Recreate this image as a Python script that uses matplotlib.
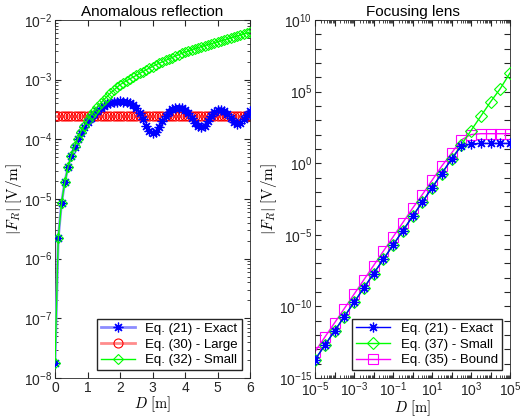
import numpy as np
import matplotlib
matplotlib.use("Agg")
import matplotlib.pyplot as plt
from matplotlib.ticker import LogLocator, FixedLocator, NullFormatter, LogFormatterSciNotation

plt.rcParams['font.family'] = ['Liberation Sans', 'DejaVu Sans']
plt.rcParams['mathtext.fontset'] = 'cm'

# ---- Anomalous reflection data ----
d_refl = [round(0.1 * i, 1) for i in range(61)]
fr_exact_refl = [1.8e-8, 2.2e-6, 8.5e-6, 1.9e-5, 3.4e-5, 5.3e-5, 7.5e-5, 1.0e-4, 1.3e-4, 1.6e-4,
                 1.95e-4, 2.3e-4, 2.65e-4, 3.0e-4, 3.3e-4, 3.6e-4, 3.85e-4, 4.05e-4, 4.2e-4, 4.3e-4,
                 4.35e-4, 4.3e-4, 4.2e-4, 4.0e-4, 3.7e-4, 3.3e-4, 2.8e-4, 2.2e-4, 1.7e-4, 1.4e-4,
                 1.3e-4, 1.35e-4, 1.6e-4, 2.0e-4, 2.5e-4, 2.9e-4, 3.2e-4, 3.35e-4, 3.4e-4, 3.3e-4,
                 3.1e-4, 2.75e-4, 2.3e-4, 1.9e-4, 1.65e-4, 1.6e-4, 1.7e-4, 2.0e-4, 2.5e-4, 2.85e-4,
                 3.1e-4, 3.15e-4, 3.0e-4, 2.7e-4, 2.3e-4, 1.95e-4, 1.8e-4, 1.9e-4, 2.2e-4, 2.6e-4,
                 2.95e-4]
fr_large_refl = [2.45e-4] * 61
fr_small_refl = [1.8e-8, 2.2e-6, 8.5e-6, 1.9e-5, 3.4e-5, 5.3e-5, 7.6e-5, 1.03e-4, 1.35e-4, 1.7e-4,
                 2.1e-4, 2.55e-4, 3.0e-4, 3.5e-4, 4.0e-4, 4.6e-4, 5.2e-4, 5.9e-4, 6.6e-4, 7.4e-4,
                 8.2e-4, 8.9e-4, 9.6e-4, 1.03e-3, 1.1e-3, 1.18e-3, 1.27e-3, 1.36e-3, 1.46e-3, 1.56e-3,
                 1.66e-3, 1.77e-3, 1.88e-3, 1.99e-3, 2.1e-3, 2.22e-3, 2.35e-3, 2.48e-3, 2.62e-3, 2.76e-3,
                 2.9e-3, 3.03e-3, 3.16e-3, 3.3e-3, 3.44e-3, 3.58e-3, 3.72e-3, 3.86e-3, 4.0e-3, 4.15e-3,
                 4.3e-3, 4.47e-3, 4.64e-3, 4.82e-3, 5.0e-3, 5.2e-3, 5.4e-3, 5.6e-3, 5.85e-3, 6.05e-3,
                 6.3e-3]

# ---- Focusing lens data ----
d_lens = [1e-5, 3.16e-5, 1e-4, 3.16e-4, 1e-3, 3.16e-3, 1e-2, 3.16e-2, 1e-1, 3.16e-1, 1.0,
          3.16, 10.0, 31.6, 100.0, 316.0, 1e3, 3.16e3, 1e4, 3.16e4, 1e5]
fr_exact_lens = [1.9e-14, 1.9e-13, 1.9e-12, 1.9e-11, 1.9e-10, 1.9e-9, 1.9e-8, 1.9e-7, 1.9e-6, 1.9e-5,
                 1.9e-4, 1.9e-3, 1.9e-2, 0.19, 1.9, 15.8, 22.0, 24.0, 24.0, 24.0, 24.0]
fr_small_lens = [1.9e-14, 1.9e-13, 1.9e-12, 1.9e-11, 1.9e-10, 1.9e-9, 1.9e-8, 1.9e-7, 1.9e-6, 1.9e-5,
                 1.9e-4, 1.9e-3, 1.9e-2, 0.19, 1.9, 19.0, 190.0, 1.9e3, 1.9e4, 1.6e5, 2.0e6]
fr_bound_lens = [7e-14, 7e-13, 7e-12, 7e-11, 7e-10, 7e-9, 7e-8, 7e-7, 7e-6, 7e-5,
                 7e-4, 6.3e-3, 6.3e-2, 0.63, 5.0, 42.0, 100.0, 115.0, 115.0, 115.0, 115.0]

# matlab style '*' marker: 8-armed asterisk
star = (8, 2, 0)

fig = plt.figure(figsize=(5.21, 4.16), dpi=100)
ax1 = fig.add_axes([55 / 521, 38 / 416, 195 / 521, 358 / 416])
ax2 = fig.add_axes([315 / 521, 38 / 416, 195 / 521, 358 / 416])

# left panel
ax1.plot(d_refl, fr_exact_refl, color=(0.55, 0.55, 1.0), lw=2, marker=star, ms=7,
         mec='b', mfc='b', mew=0.9, label='Eq. (21) - Exact', zorder=3)
ax1.plot(d_refl, fr_large_refl, color=(1.0, 0.55, 0.55), lw=2, marker='o', ms=6.5,
         mec='r', mfc='none', mew=0.8, label='Eq. (30) - Large', zorder=2)
ax1.plot(d_refl, fr_small_refl, color=(0, 1, 0), lw=1, marker='D', ms=5.5,
         mec=(0, 1, 0), mfc='none', mew=0.8, label='Eq. (32) - Small', zorder=4)
ax1.set_yscale('log')
ax1.set_xlim(0, 6)
ax1.set_ylim(1e-8, 1e-2)
ax1.set_xticks([0, 1, 2, 3, 4, 5, 6])
ax1.yaxis.set_major_locator(LogLocator(base=10, numticks=20))
ax1.yaxis.set_minor_locator(LogLocator(base=10, subs=np.arange(2, 10), numticks=20))
ax1.yaxis.set_minor_formatter(NullFormatter())
ax1.set_title('Anomalous reflection', fontsize=11, pad=3)
ax1.set_xlabel(r'$D$ $[\mathrm{m}]$', fontsize=10.5, labelpad=-0.5)
ax1.set_ylabel(r'$|F_R|$ $[\mathrm{V/m}]$', fontsize=11, labelpad=0)
ax1.legend(loc='lower right', fontsize=9.5, fancybox=False, edgecolor='0.15',
           framealpha=1, borderaxespad=0.6, handlelength=2.6, borderpad=0.3, labelspacing=0.25)

# right panel
ax2.plot(d_lens, fr_exact_lens, color='b', lw=1, marker=star, ms=7,
         mec='b', mfc='b', mew=0.9, label='Eq. (21) - Exact', zorder=4)
ax2.plot(d_lens, fr_small_lens, color=(0, 1, 0), lw=1, marker='D', ms=6,
         mec=(0, 1, 0), mfc='none', mew=0.8, label='Eq. (37) - Small', zorder=3)
ax2.plot(d_lens, fr_bound_lens, color=(1, 0, 1), lw=1, marker='s', ms=6.5,
         mec=(1, 0, 1), mfc='none', mew=0.8, label='Eq. (35) - Bound', zorder=2)
ax2.set_xscale('log')
ax2.set_yscale('log')
ax2.set_xlim(1e-5, 1e5)
ax2.set_ylim(1e-15, 1e10)
ax2.xaxis.set_major_locator(FixedLocator([10.0 ** e for e in range(-5, 6)]))
ax2.xaxis.set_major_formatter(plt.FuncFormatter(
    lambda v, p: LogFormatterSciNotation()(v) if round(np.log10(v)) % 2 == 1 or round(np.log10(v)) in (-5, 5) else ''))
ax2.xaxis.set_minor_locator(LogLocator(base=10, subs=np.arange(2, 10), numticks=30))
ax2.xaxis.set_minor_formatter(NullFormatter())
ax2.yaxis.set_major_locator(FixedLocator([10.0 ** e for e in range(-15, 11)]))
ax2.yaxis.set_major_formatter(plt.FuncFormatter(
    lambda v, p: LogFormatterSciNotation()(v) if round(np.log10(v)) % 5 == 0 else ''))
ax2.yaxis.set_minor_locator(FixedLocator([]))
ax2.set_title('Focusing lens', fontsize=11, pad=3)
ax2.set_xlabel(r'$D$ $[\mathrm{m}]$', fontsize=10.5, labelpad=-0.5)
ax2.set_ylabel(r'$|F_R|$ $[\mathrm{V/m}]$', fontsize=11, labelpad=0)
ax2.legend(loc='lower right', fontsize=9.5, fancybox=False, edgecolor='0.15',
           framealpha=1, borderaxespad=0.6, handlelength=2.6, borderpad=0.3, labelspacing=0.25)

for ax in (ax1, ax2):
    ax.tick_params(which='both', direction='in', top=True, right=True, labelsize=10,
                   colors='0.15', labelcolor='0.15', pad=2)
    ax.tick_params(which='major', length=4)
    ax.tick_params(which='minor', length=2)
    for s in ax.spines.values():
        s.set_color('0.15')
        s.set_linewidth(0.6)

fig.savefig('out.png', dpi=100)
